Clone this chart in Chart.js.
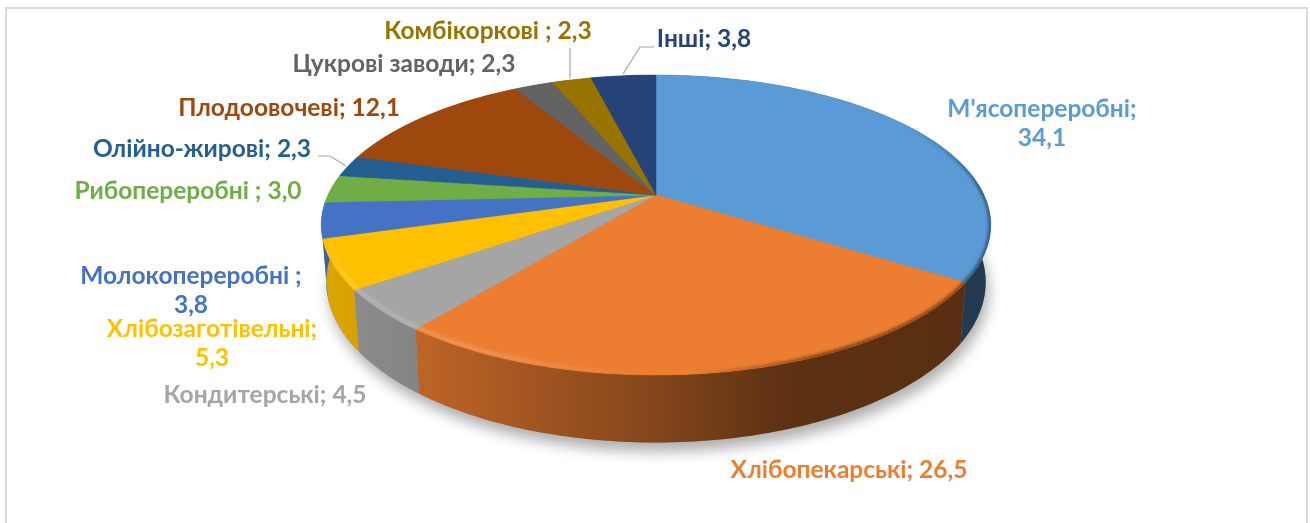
<!DOCTYPE html>
<html>
<head>
<meta charset="utf-8">
<title>Pie</title>
<style>
  html, body { margin: 0; background: #fff; }
  #wrap { position: relative; width: 1310px; height: 523px; overflow: hidden; }
  canvas { display: block; }
</style>
<script src="https://cdn.jsdelivr.net/npm/chart.js@4"></script>
</head>
<body>
<div id="wrap"><canvas id="pie" width="1310" height="523"></canvas></div>
<script>
const categories = ["М'ясопереробні", "Хлібопекарські", "Кондитерські", "Хлібозаготівельні", "Молокопереробні ", "Рибопереробні ", "Олійно-жирові", "Плодоовочеві", "Цукрові заводи", "Комбікоркові ", "Інші"];
const values = [34.1, 26.5, 4.5, 5.3, 3.8, 3.0, 2.3, 12.1, 2.3, 2.3, 3.8];
const colors = ["#5b9bd5", "#ed7d31", "#a5a5a5", "#ffc000", "#4472c4", "#70ad47", "#255e91", "#9e480e", "#636363", "#997300", "#264478"];

// label placement: [center x, center y, wrap value onto a second line]
const labelSpots = [
  [1042, 109, true], [849, 470, false], [265, 395, false], [212, 329, true], [191, 276, true],
  [188, 191, false], [202, 149, false], [289, 108, false], [404, 64, false], [488, 31, false], [704, 39, false]
];
const leaders = [
  [[318, 156], [330, 156], [346, 166]],
  [[570, 48], [570, 79]],
  [[654, 47], [640, 47], [623, 74]]
];

// perspective of the disc, fitted to the picture
const cx = 656, tilt = 0.2;
const topFace = { a: 328, b: 144, y: 195 };
const baseFace = { a: 323, b: 154, y: 250 };
const STEP = Math.PI / 180;
const wallStops = [[330, 0.86], [420, 0.8], [650, 0.56], [790, 0.39], [1000, 0.37]];

function project(face, ang, r = 1) {
  const u = Math.cos(ang) * r, v = Math.sin(ang) * r, w = 1 - tilt * v;
  return [cx + face.a * u / w, face.y + face.b * v / w];
}

function rgb(hex) {
  return [1, 3, 5].map(i => parseInt(hex.slice(i, i + 2), 16));
}

function tracePoints(ctx, pts) {
  ctx.beginPath();
  pts.forEach((p, i) => i ? ctx.lineTo(p[0], p[1]) : ctx.moveTo(p[0], p[1]));
}

function rimAngles(start, end) {
  const out = [];
  for (let a = start; a < end; a += STEP) out.push(a);
  out.push(end);
  return out;
}

function drawShadow(ctx) {
  const rim = rimAngles(0, Math.PI * 2).map(a => project(baseFace, a));
  ctx.save();
  ctx.shadowColor = "rgba(0,0,0,0.32)";
  ctx.shadowBlur = 14;
  ctx.shadowOffsetY = 9;
  ctx.shadowOffsetX = 3;
  ctx.fillStyle = "#888";
  tracePoints(ctx, rim);
  ctx.closePath();
  ctx.fill();
  ctx.restore();
}

function drawWalls(ctx, arcs) {
  const x0 = wallStops[0][0], x1 = wallStops[wallStops.length - 1][0];
  arcs.forEach((arc, i) => {
    const angs = rimAngles(arc.startAngle, arc.endAngle);
    const outline = [...angs.map(a => project(topFace, a)), ...angs.slice().reverse().map(a => project(baseFace, a))];
    const grad = ctx.createLinearGradient(x0, 0, x1, 0);
    wallStops.forEach(([x, s]) => {
      grad.addColorStop((x - x0) / (x1 - x0), `rgb(${rgb(colors[i]).map(n => Math.round(n * s)).join(",")})`);
    });
    tracePoints(ctx, outline);
    ctx.closePath();
    ctx.fillStyle = grad;
    ctx.fill();
  });
}

function drawTop(ctx, arcs) {
  arcs.forEach((arc, i) => {
    const rim = rimAngles(arc.startAngle, arc.endAngle).map(a => project(topFace, a));
    tracePoints(ctx, [[cx, topFace.y], ...rim]);
    ctx.closePath();
    ctx.fillStyle = colors[i];
    ctx.strokeStyle = colors[i];
    ctx.lineWidth = 0.5;
    ctx.fill();
    ctx.stroke();
  });
}

// soft bevel at the rim: light on the left, dark on the right
function drawBevel(ctx, arcs) {
  const whole = rimAngles(0, Math.PI * 2).map(a => project(topFace, a));
  ctx.save();
  tracePoints(ctx, whole);
  ctx.closePath();
  ctx.clip();
  ctx.filter = "blur(1.5px)";
  arcs.forEach((arc, i) => {
    const base = rgb(colors[i]);
    const angs = rimAngles(arc.startAngle, arc.endAngle);
    for (let k = 0; k < angs.length - 1; k++) {
      const mid = project(topFace, angs[k]);
      const x = mid[0], v = Math.sin(angs[k]);
      let style = null, r = 1;
      if (x < 640 && v > 0.35) {
        const f = Math.min(1, (640 - x) / 150) * Math.min(1, (v - 0.35) / 0.15) * 0.2;
        style = `rgb(${base.map(n => Math.round(n + (255 - n) * f)).join(",")})`;
        r = 0.99;
      } else if (x > 700 && v > -0.55) {
        const f = 1 - 0.55 * Math.min(1, (x - 700) / 120) * Math.min(1, (v + 0.55) / 0.5);
        style = `rgb(${base.map(n => Math.round(n * f)).join(",")})`;
      }
      if (!style) continue;
      ctx.strokeStyle = style;
      ctx.lineWidth = 4;
      tracePoints(ctx, [project(topFace, angs[k], r), project(topFace, angs[k + 1], r)]);
      ctx.stroke();
    }
  });
  ctx.restore();
}

function drawLeaders(ctx) {
  ctx.save();
  ctx.strokeStyle = "#a6a6a6";
  ctx.lineWidth = 1.2;
  leaders.forEach(l => {
    tracePoints(ctx, l);
    ctx.stroke();
  });
  ctx.restore();
}

function drawLabels(ctx) {
  ctx.save();
  ctx.font = "bold 24.5px Lato, 'Open Sans', sans-serif";
  ctx.textAlign = "center";
  ctx.textBaseline = "middle";
  ctx.filter = "blur(0.35px)";
  categories.forEach((name, i) => {
    const [x, y, wrap] = labelSpots[i];
    const val = values[i].toFixed(1).replace(".", ",");
    ctx.fillStyle = colors[i];
    if (wrap) {
      ctx.fillText(`${name};`, x, y);
      ctx.fillText(val, x, y + 29);
    } else {
      ctx.fillText(`${name}; ${val}`, x, y);
    }
  });
  ctx.restore();
}

function drawFrame(ctx) {
  ctx.save();
  ctx.strokeStyle = "#d9d9d9";
  ctx.lineWidth = 2;
  tracePoints(ctx, [[6, 523], [6, 8], [1307, 8], [1307, 523]]);
  ctx.stroke();
  ctx.restore();
}

const pie3d = {
  id: "pie3d",
  beforeDatasetsDraw(chart) {
    const ctx = chart.ctx;
    const arcs = chart.getDatasetMeta(0).data;
    drawFrame(ctx);
    drawShadow(ctx);
    drawWalls(ctx, arcs);
    drawTop(ctx, arcs);
    drawBevel(ctx, arcs);
    drawLeaders(ctx);
    drawLabels(ctx);
    return false; // skip the flat pie
  }
};

document.fonts.load("bold 24.5px Lato").finally(() => {
  new Chart(document.getElementById("pie"), {
    type: "pie",
    data: {
      labels: categories,
      datasets: [{ data: values, backgroundColor: colors, borderWidth: 0 }]
    },
    options: {
      responsive: false,
      animation: false,
      plugins: { legend: { display: false }, tooltip: { enabled: false } }
    },
    plugins: [pie3d]
  });
});
</script>
</body>
</html>
